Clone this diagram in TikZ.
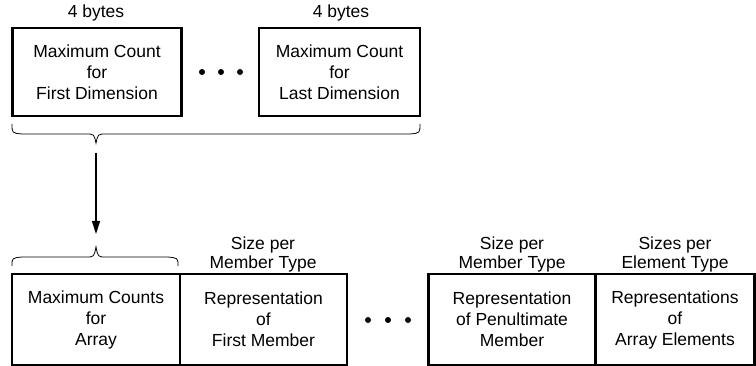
\documentclass[tikz,border=0pt]{standalone}
\usepackage{fontspec}
\setmainfont{Liberation Sans}
\usetikzlibrary{arrows.meta}
\begin{document}
\begin{tikzpicture}[x=1pt,y=-1pt,
  box/.style={draw,line width=2.6pt,inner sep=0pt,align=center,font=\fontsize{17.5}{21}\selectfont},
  lbl/.style={inner sep=0pt,align=center,font=\fontsize{17.5}{19}\selectfont},
  dotc/.style={fill,circle,inner sep=0pt,minimum size=6pt},
  brc/.style={line width=0.8pt},
  arr/.style={line width=1.4pt,-{Triangle[length=13pt,width=8pt]}}]
\useasboundingbox (0,0) rectangle (756,366);
% top boxes
\node[box,minimum width=169pt,minimum height=88pt] (t1) at (97,72) {Maximum Count\\for\\First Dimension};
\node[box,minimum width=161pt,minimum height=88pt] (t2) at (339.5,72) {Maximum Count\\for\\Last Dimension};
\node[lbl] (l1) at (96,13) {4 bytes};
\node[lbl] (l2) at (341,13) {4 bytes};
\node[dotc] (d1) at (202,72) {};
\node[dotc] (d2) at (221,72) {};
\node[dotc] (d3) at (240,72) {};
% top brace
\coordinate (tb) at (96,143);
\draw[brc] (12,124) .. controls (12,133) .. (22,134) -- (86,134) .. controls (94,134) .. (tb)
  .. controls (98,134) .. (106,134) -- (410,134) .. controls (420,133) .. (420,124);
% bottom brace
\coordinate (bb) at (96,247);
\draw[brc] (12,266) .. controls (12,258) .. (22,257) -- (86,257) .. controls (94,257) .. (bb)
  .. controls (98,257) .. (106,257) -- (168,257) .. controls (178,258) .. (178,266);
\coordinate (bt) at (96,153);
\draw[arr] (bt) -- (96,234);
% bottom boxes
\node[box,minimum width=168pt,minimum height=91pt] (b1) at (96,319.5) {Maximum Counts\\for\\Array};
\node[box,minimum width=167pt,minimum height=91pt] (b2) at (263.5,319.5) {Representation\\of\\First Member};
\node[box,minimum width=167pt,minimum height=91pt] (b3) at (512,319.5) {Representation\\of Penultimate\\Member};
\node[box,minimum width=159pt,minimum height=91pt] (b4) at (675,319.5) {Representations\\of\\Array Elements};
\node[dotc] (d4) at (368,320) {};
\node[dotc] (d5) at (388,320) {};
\node[dotc] (d6) at (408,320) {};
\node[lbl] (s2) at (263,254) {Size per\\Member Type};
\node[lbl] (s3) at (512,254) {Size per\\Member Type};
\node[lbl] (s4) at (675,254) {Sizes per\\Element Type};
\end{tikzpicture}
\end{document}
